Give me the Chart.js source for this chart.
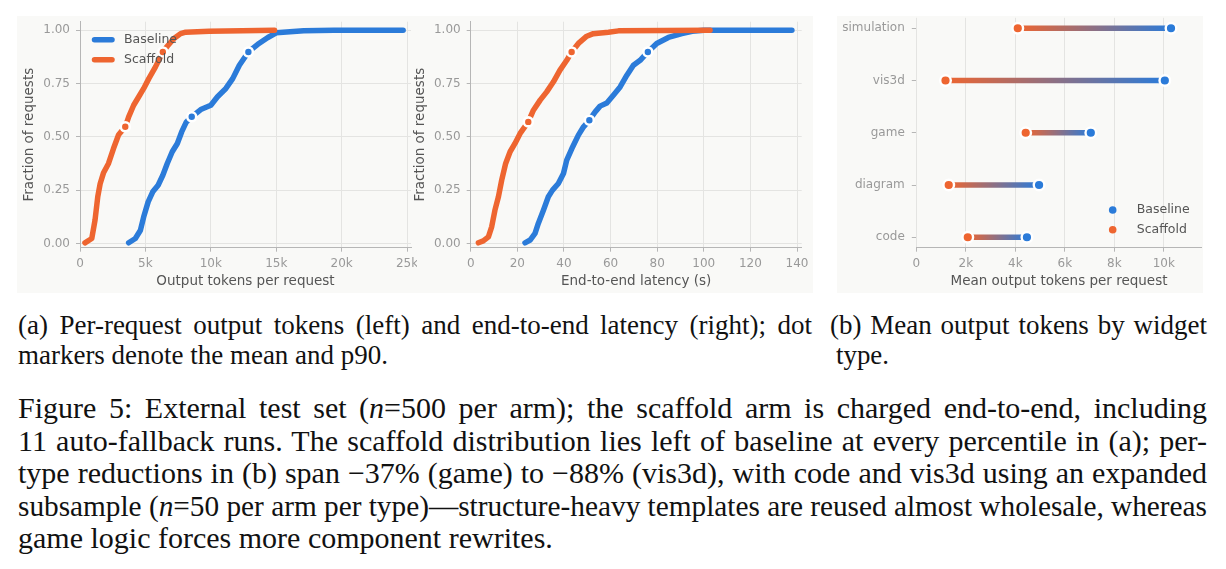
<!DOCTYPE html>
<html>
<head>
<meta charset="utf-8">
<script src="https://cdn.jsdelivr.net/npm/chart.js@4.4.1/dist/chart.umd.min.js"></script>
<style>
  body { margin: 0; width: 1226px; height: 569px; background: #fff; position: relative; overflow: hidden; }
  .panel { position: absolute; background: #f9f9f7; }
  .box { position: absolute; }
  .cap { position: absolute; font-family: 'Liberation Serif', Tinos, 'Times New Roman', 'Nimbus Roman', FreeSerif, 'DejaVu Serif', serif;
         color: #111; white-space: nowrap; transform-origin: 0 50%; }
  .sub { font-size: 27px; line-height: 30px; }
  .fig { font-size: 30px; line-height: 32.5px; }
</style>
</head>
<body>
<div class="panel" style="left:17px;top:16px;width:796px;height:277px"></div>
<div class="panel" style="left:837px;top:16px;width:366px;height:277px"></div>
<div class="box" style="left:17px;top:16px"><canvas id="tokens" width="400" height="277"></canvas></div>
<div class="box" style="left:400px;top:16px"><canvas id="latency" width="413" height="277"></canvas></div>
<div class="box" style="left:837px;top:16px"><canvas id="bytype" width="366" height="277"></canvas></div>

<div class="cap sub" data-w="794" data-j="1" style="left:18px;top:310px">(a) Per-request output tokens (left) and end-to-end latency (right); dot</div>
<div class="cap sub" data-w="370" style="left:18px;top:340px">markers denote the mean and p90.</div>
<div class="cap sub" data-w="377" data-j="1" style="left:830px;top:310px">(b) Mean output tokens by widget</div>
<div class="cap sub" data-w="53" style="left:836px;top:340px">type.</div>

<div class="cap fig" data-w="1189" data-j="1" style="left:18px;top:392px">Figure 5: External test set (<i>n</i>=500 per arm); the scaffold arm is charged end-to-end, including</div>
<div class="cap fig" data-w="1189" data-j="1" style="left:18px;top:424.5px">11 auto-fallback runs. The scaffold distribution lies left of baseline at every percentile in (a); per-</div>
<div class="cap fig" data-w="1189" data-j="1" style="left:18px;top:457px">type reductions in (b) span &minus;37% (game) to &minus;88% (vis3d), with code and vis3d using an expanded</div>
<div class="cap fig" data-w="1189" data-j="1" style="left:18px;top:489.5px">subsample (<i>n</i>=50 per arm per type)&mdash;structure-heavy templates are reused almost wholesale, whereas</div>
<div class="cap fig" data-w="535" style="left:18px;top:522px">game logic forces more component rewrites.</div>

<script>
var BLUE = '#2b7bd9', ORANGE = '#ee6530';
var GRID = '#e4e4e2', SPINE = '#b6b6b6', TICK_TXT = '#999999', LABEL_TXT = '#555555';

var tokBaseX = [3720, 4230, 4620, 4870, 5210, 5560, 5970, 6330, 6670, 7050, 7440, 7770, 8130, 8540,
                9230, 10000, 10510, 11150, 11670, 12180, 12870, 13590, 14360, 15000, 16050, 17100, 19400, 24700];
var tokBaseF = [0.003, 0.023, 0.062, 0.125, 0.195, 0.242, 0.273, 0.320, 0.375, 0.430, 0.469, 0.523, 0.570, 0.594,
                0.628, 0.648, 0.688, 0.727, 0.773, 0.836, 0.898, 0.934, 0.966, 0.988, 0.993, 0.998, 1.0, 1.0];
var tokScafX = [380, 900, 1150, 1360, 1540, 1790, 2180, 2560, 2950, 3460, 3720, 4100, 4490, 4870, 5260,
                5770, 6150, 6330, 6670, 7180, 7690, 8080, 9870, 12400, 14870];
var tokScafF = [0.003, 0.023, 0.110, 0.220, 0.280, 0.330, 0.375, 0.445, 0.510, 0.547, 0.594, 0.648, 0.688, 0.727, 0.773,
                0.828, 0.875, 0.898, 0.925, 0.961, 0.984, 0.991, 0.995, 0.998, 1.0];
// mean and p90 dots
var tokBaseMarkX = [8540, 12870], tokBaseMarkF = [0.594, 0.898];
var tokScafMarkX = [3460, 6330], tokScafMarkF = [0.547, 0.898];

// (a) right: end-to-end latency (s)
var latBaseX = [23.3, 25.5, 27.6, 29.0, 31.2, 33.3, 35.1, 37.6, 39.8, 41.2, 43.4, 46.2, 48.4, 50.9, 53.4, 55.5,
                58.4, 61.2, 64.1, 67.0, 69.8, 72.7, 76.0, 79.8, 84.8, 90.6, 95.0, 100.0, 137.8];
var latBaseF = [0.003, 0.016, 0.047, 0.094, 0.156, 0.219, 0.250, 0.281, 0.328, 0.391, 0.445, 0.508, 0.547, 0.578, 0.617, 0.644,
                0.659, 0.695, 0.734, 0.789, 0.836, 0.859, 0.898, 0.938, 0.966, 0.984, 0.995, 1.0, 1.0];
var latScafX = [3.3, 5.4, 7.6, 9.0, 10.4, 11.9, 13.3, 15.0, 16.9, 19.0, 21.2, 24.7, 26.9, 29.8, 32.6, 35.5,
                38.3, 41.2, 43.3, 46.2, 49.8, 52.6, 59.1, 63.4, 102.7];
var latScafF = [0.003, 0.012, 0.031, 0.078, 0.156, 0.219, 0.297, 0.375, 0.430, 0.469, 0.516, 0.570, 0.625, 0.672, 0.711, 0.758,
                0.813, 0.859, 0.898, 0.938, 0.972, 0.984, 0.991, 0.997, 1.0];
var latBaseMarkX = [50.9, 76.0], latBaseMarkF = [0.578, 0.898];
var latScafMarkX = [24.7, 43.3], latScafMarkF = [0.570, 0.898];

// (b) mean output tokens by widget type, top to bottom
var widgetTypes = ['simulation', 'vis3d', 'game', 'diagram', 'code'];
var meanBaseline = [10290, 10040, 7050, 4960, 4470];
var meanScaffold = [4100, 1180, 4420, 1310, 2080];

var fracTicks = [0, 0.25, 0.5, 0.75, 1];
var tokenTicks = [0, 5000, 10000, 15000, 20000, 25000];
var latencyTicks = [0, 20, 40, 60, 80, 100, 120, 140];
var meanTicks = [0, 2000, 4000, 6000, 8000, 10000];

// caption lines: justify to their box, squeeze if the serif face runs wide
document.querySelectorAll('.cap').forEach(function (el) {
  var w = parseFloat(el.getAttribute('data-w'));
  var nat = el.getBoundingClientRect().width;
  if (nat > w) {
    el.style.transform = 'scaleX(' + (w / nat) + ')';
  } else if (el.getAttribute('data-j')) {
    var gaps = el.textContent.split(' ').length - 1;
    if (gaps > 0) el.style.wordSpacing = ((w - nat) / gaps) + 'px';
  }
});

Chart.defaults.font.family = 'DejaVu Sans';
Chart.defaults.animation = false;

function pts(xs, fs) {
  return xs.map(function (x, i) { return { x: x, y: fs[i] }; });
}
function kFmt(v) { return v === 0 ? '0' : (v / 1000) + 'k'; }
function fixTicks(list) {
  return function (scale) { scale.ticks = list.map(function (v) { return { value: v }; }); };
}
// fixed axis box, no extra label padding pushed onto the plot area
function fixWidth(w) {
  return function (s) { s.width = w; s.paddingTop = 0; s.paddingBottom = 0; };
}
function fixHeight(h) {
  return function (s) { s.height = h; s.paddingLeft = 0; s.paddingRight = 0; };
}

// legend drawn inside the plot, either line samples or dots
var innerLegend = {
  id: 'innerLegend',
  afterDraw: function (chart, args, o) {
    var c = chart.ctx;
    c.save();
    c.font = '12.5px "DejaVu Sans"';
    c.textBaseline = 'middle';
    o.items.forEach(function (it, i) {
      var y = o.y + i * o.gap;
      if (o.kind === 'line') {
        c.strokeStyle = it.color; c.lineWidth = 5.5; c.lineCap = 'round';
        c.beginPath(); c.moveTo(o.x, y); c.lineTo(o.x + 17.5, y); c.stroke();
      } else {
        c.fillStyle = it.color;
        c.beginPath(); c.arc(o.x, y, 3.8, 0, Math.PI * 2); c.fill();
      }
      c.fillStyle = LABEL_TXT;
      c.fillText(it.text, o.textX, y);
    });
    c.restore();
  }
};

function curve(label, data, color, order) {
  return { label: label, data: data, borderColor: color, borderWidth: 5.5, pointRadius: 0,
           borderCapStyle: 'round', borderJoinStyle: 'round', tension: 0, order: order };
}
function marks(data, color) {
  return { data: data, showLine: false, pointRadius: 4.5, pointBorderWidth: 2.6,
           pointBackgroundColor: color, pointBorderColor: '#ffffff', order: 0 };
}

function cdfChart(id, c) {
  return new Chart(document.getElementById(id), {
    type: 'line',
    data: { datasets: [
      marks(c.baseMarks, BLUE),
      marks(c.scafMarks, ORANGE),
      curve('Scaffold', c.scaf, ORANGE, 1),
      curve('Baseline', c.base, BLUE, 2)
    ] },
    options: {
      responsive: false,
      layout: { autoPadding: false, padding: { top: 5.7, right: c.padRight, left: 0, bottom: 0 } },
      plugins: { legend: { display: false }, tooltip: { enabled: false }, innerLegend: c.legend },
      scales: {
        x: {
          type: 'linear', min: 0, max: c.xMax,
          afterBuildTicks: fixTicks(c.xTicks),
          afterFit: fixHeight(45.3),
          grid: { color: GRID, tickColor: SPINE, tickLength: 4 },
          border: { color: SPINE },
          ticks: { color: TICK_TXT, font: { size: 12 }, padding: 5, maxRotation: 0, callback: c.xFmt },
          title: { display: true, text: c.xTitle, color: LABEL_TXT, font: { size: 13.5, lineHeight: 1.2 },
                   padding: { top: 0, bottom: 3.2 } }
        },
        y: {
          min: -0.02, max: 1.04,
          afterBuildTicks: fixTicks(fracTicks),
          afterFit: fixWidth(c.yWidth),
          grid: { color: GRID, tickColor: SPINE, tickLength: 4 },
          border: { color: SPINE },
          ticks: { color: TICK_TXT, font: { size: 12 }, padding: 6,
                   callback: function (v) { return v.toFixed(2); } },
          title: { display: true, text: 'Fraction of requests', color: LABEL_TXT,
                   font: { size: 13.5, lineHeight: 1.2 }, padding: { top: c.yTitlePad, bottom: 0 } }
        }
      }
    },
    plugins: c.legend ? [innerLegend] : []
  });
}

cdfChart('tokens', {
  base: pts(tokBaseX, tokBaseF), scaf: pts(tokScafX, tokScafF),
  baseMarks: pts(tokBaseMarkX, tokBaseMarkF), scafMarks: pts(tokScafMarkX, tokScafMarkF),
  xMax: 25300, xTicks: tokenTicks, xFmt: kFmt, xTitle: 'Output tokens per request',
  yWidth: 63, yTitlePad: 4.2, padRight: 6,
  legend: { kind: 'line', x: 77.5, y: 23.7, gap: 20, textX: 107,
            items: [{ text: 'Baseline', color: BLUE }, { text: 'Scaffold', color: ORANGE }] }
});

cdfChart('latency', {
  base: pts(latBaseX, latBaseF), scaf: pts(latScafX, latScafF),
  baseMarks: pts(latBaseMarkX, latBaseMarkF), scafMarks: pts(latScafMarkX, latScafMarkF),
  xMax: 142, xTicks: latencyTicks, xFmt: function (v) { return String(v); },
  xTitle: 'End-to-end latency (s)',
  yWidth: 70.7, yTitlePad: 11.9, padRight: 11.3, legend: null
});

// (b) dumbbells: gradient bar from scaffold to baseline mean
function rowY(i) { return widgetTypes.length - 1 - i; }

function dumbbellColor(ctx) {
  var chart = ctx.chart, xs = chart.scales.x;
  var ds = chart.data.datasets[ctx.datasetIndex];
  if (!xs || !chart.chartArea) return ORANGE;
  var g = chart.ctx.createLinearGradient(xs.getPixelForValue(ds.data[0].x), 0,
                                         xs.getPixelForValue(ds.data[1].x), 0);
  g.addColorStop(0, ORANGE);
  g.addColorStop(1, BLUE);
  return g;
}

var typeSets = widgetTypes.map(function (t, i) {
  return { data: [{ x: meanScaffold[i], y: rowY(i) }, { x: meanBaseline[i], y: rowY(i) }],
           borderColor: dumbbellColor, borderWidth: 5.5, pointRadius: 0, borderCapStyle: 'butt', order: 3 };
});
typeSets.push({ label: 'Baseline', showLine: false, order: 0, pointRadius: 5.3, pointBorderWidth: 2.4,
  pointBackgroundColor: BLUE, pointBorderColor: '#ffffff',
  data: widgetTypes.map(function (t, i) { return { x: meanBaseline[i], y: rowY(i) }; }) });
typeSets.push({ label: 'Scaffold', showLine: false, order: 1, pointRadius: 5.3, pointBorderWidth: 2.4,
  pointBackgroundColor: ORANGE, pointBorderColor: '#ffffff',
  data: widgetTypes.map(function (t, i) { return { x: meanScaffold[i], y: rowY(i) }; }) });

new Chart(document.getElementById('bytype'), {
  type: 'line',
  data: { datasets: typeSets },
  options: {
    responsive: false,
    layout: { autoPadding: false, padding: { top: 1.8, right: 1.3, left: 0, bottom: 0 } },
    plugins: {
      legend: { display: false }, tooltip: { enabled: false },
      innerLegend: { kind: 'dot', x: 275.7, y: 194, gap: 19.7, textX: 299.7,
                     items: [{ text: 'Baseline', color: BLUE }, { text: 'Scaffold', color: ORANGE }] }
    },
    scales: {
      x: {
        type: 'linear', min: 0, max: 11530,
        afterBuildTicks: fixTicks(meanTicks),
        afterFit: fixHeight(45.3),
        grid: { color: GRID, tickColor: SPINE, tickLength: 4 },
        border: { color: SPINE },
        ticks: { color: TICK_TXT, font: { size: 12 }, padding: 5, maxRotation: 0, callback: kFmt },
        title: { display: true, text: 'Mean output tokens per request', color: LABEL_TXT,
                 font: { size: 13.5, lineHeight: 1.2 }, padding: { top: 0, bottom: 3.2 } }
      },
      y: {
        min: -0.2, max: 4.2,
        afterBuildTicks: fixTicks(widgetTypes.map(function (t, i) { return rowY(i); })),
        afterFit: fixWidth(79.3),
        grid: { drawOnChartArea: false, tickColor: SPINE, tickLength: 4.5 },
        border: { display: false },
        ticks: { color: TICK_TXT, font: { size: 12 }, padding: 7,
                 callback: function (v) { return widgetTypes[widgetTypes.length - 1 - v]; } }
      }
    }
  },
  plugins: [innerLegend]
});
</script>
</body>
</html>
